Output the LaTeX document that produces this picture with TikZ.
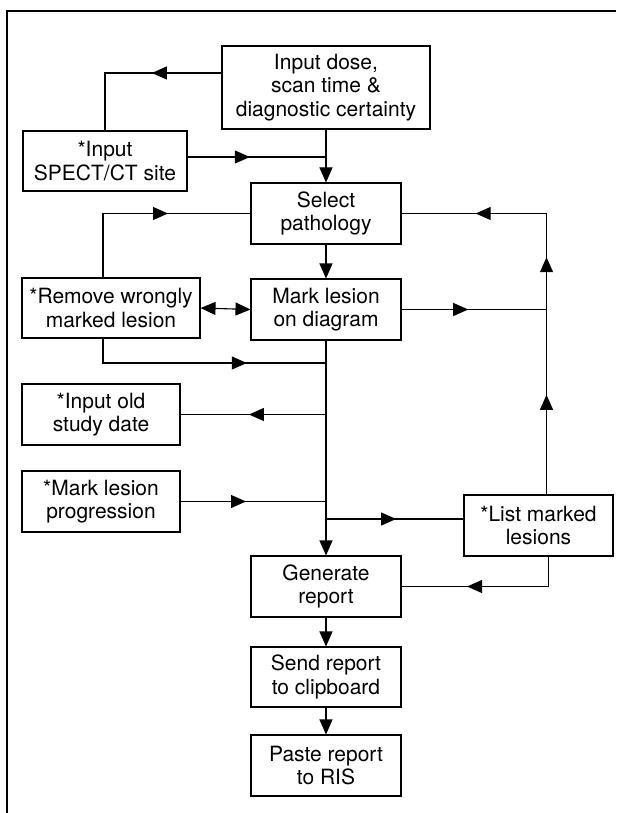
\documentclass[tikz,border=0pt]{standalone}
\usepackage{fontspec}
\setmainfont{TeX Gyre Heros}
\usetikzlibrary{arrows.meta, decorations.markings}

\begin{document}
\begin{tikzpicture}[x=1pt, y=-1pt, line width=1.1pt,
        stepbox/.style={draw, align=center, inner sep=0pt, minimum height=61pt,
            font=\fontsize{21}{23.5}\selectfont},
        head/.style={-{Triangle[length=15pt, width=13pt]}},
        tipat/.style={postaction={decorate, decoration={markings,
            mark=at position #1 with {\arrow{Triangle[length=15pt, width=13pt]}}}}}]
        \useasboundingbox (0,0) rectangle (616,813);

        % Frame
        \draw (7,813) -- (7,11) -- (616,11);

        % Steps
        \node[stepbox, minimum width=208pt, minimum height=83pt] (dose) at (326,87.5)
            {Input dose,\\scan time \&\\diagnostic certainty};
        \node[stepbox, minimum width=164pt, minimum height=60pt] (site) at (105,161)
            {*Input\\SPECT/CT site};
        \node[stepbox, minimum width=150pt] (patho) at (326,213.5) {Select\\pathology};
        \node[stepbox, minimum width=178pt, minimum height=60pt] (remove) at (111,308)
            {*Remove wrongly\\marked lesion};
        \node[stepbox, minimum width=150pt] (mark) at (326,309.5) {Mark lesion\\on diagram};
        \node[stepbox, minimum width=158pt] (olddate) at (101,414.5) {*Input old\\study date};
        \node[stepbox, minimum width=158pt] (progr) at (101,501.5) {*Mark lesion\\progression};
        \node[stepbox, minimum width=149pt] (listm) at (538.5,525.5) {*List marked\\lesions};
        \node[stepbox, minimum width=150pt] (genrep) at (326,586.5) {Generate\\report};
        \node[stepbox, minimum width=150pt, minimum height=60pt] (sendrep) at (326,677)
            {Send report\\to clipboard};
        \node[stepbox, minimum width=150pt] (paste) at (326,765.5) {Paste report\\to RIS};

        % Junctions
        \coordinate (siteout) at ([yshift=4pt]site.east);
        \coordinate (listin) at ([yshift=6.5pt]listm.west);
        \coordinate (rise) at ([xshift=8pt]listm.north);
        \coordinate (drop) at ([xshift=10pt]listm.south);
        \coordinate (joinrm) at (326,363);
        \coordinate (joinod) at (326,414.5);

        % Main line
        \draw[head] (dose.south) -- (patho.north);
        \draw[head] (patho.south) -- (mark.north);
        \draw[head] (mark.south) -- (genrep.north);
        \draw[head] (genrep.south) -- (sendrep.north);
        \draw[head] (sendrep.south) -- (paste.north);

        % Side branches on the left
        \draw[tipat=0.40] ([yshift=14.5pt]dose.west) -| (site.north);
        \draw[tipat=0.45] (siteout) -- (siteout -| dose.south);
        \draw[tipat=0.61] ([xshift=-8pt]remove.north) |- (patho.west);
        \draw[{Triangle[length=15pt, width=13pt]}-{Triangle[length=15pt, width=13pt]}]
            (remove.east) -- (mark.west);
        \draw[tipat=0.68] ([xshift=-8pt]remove.south) |- (joinrm);
        \draw[tipat=0.53] (joinod) -- (olddate.east);
        \draw[tipat=0.45] (progr.east) -- (progr.east -| mark.south);

        % Loop on the right
        \draw[tipat=0.51] (listin -| mark.south) -- (listin);
        \draw[tipat=0.234, tipat=0.557, tipat=0.826] (rise) |- (patho.east);
        \draw[tipat=0.46] (mark.east) -- (mark.east -| rise);
        \draw[tipat=0.63] (drop) |- (genrep.east);
    \end{tikzpicture}
\end{document}
